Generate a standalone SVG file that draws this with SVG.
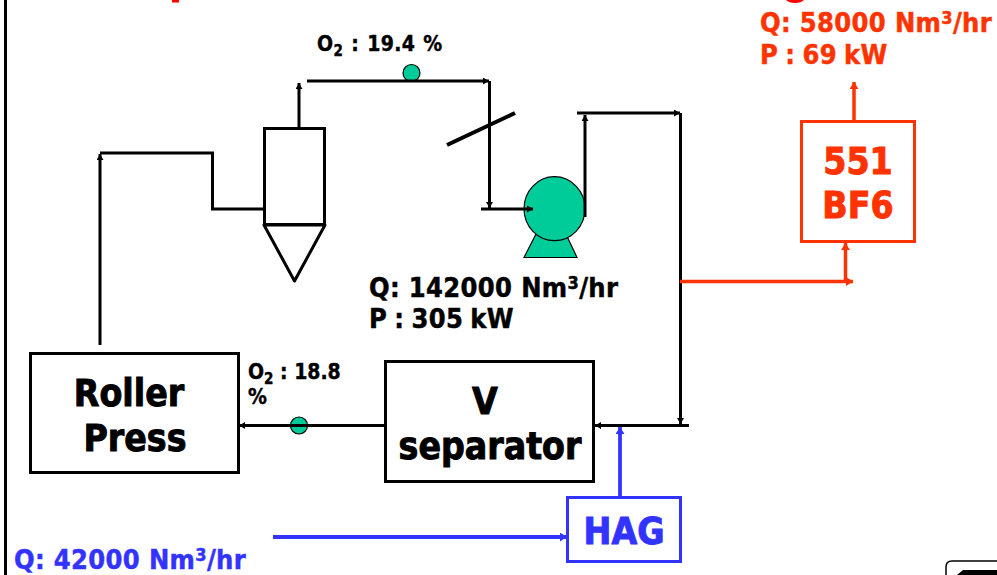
<svg xmlns="http://www.w3.org/2000/svg" width="997" height="575" viewBox="0 0 997 575">
<style>
text{font-family:"DejaVu Sans Condensed","DejaVu Sans",sans-serif;font-weight:700}
.k{fill:#000;stroke:#000}.r{fill:#ff3300;stroke:#ff3300}.b{fill:#3333ff;stroke:#3333ff}
.big{font-size:37px;stroke-width:.9;text-anchor:middle}
.mid{font-size:27px;stroke-width:.45;letter-spacing:.35px}
.sm{font-size:21px;stroke-width:.4}
.box{fill:#fff;stroke-width:3}
.ln{fill:none;stroke:#000;stroke-width:3}
.rl{fill:none;stroke:#ff3300;stroke-width:3.500}
.bl{fill:none;stroke:#3333ff;stroke-width:3.800}
.g{fill:#00cc99;stroke:#000;stroke-width:1.200}
</style>
<defs>
<marker id="ak" markerUnits="userSpaceOnUse" markerWidth="8" markerHeight="8" refX="6" refY="3.500" orient="auto"><path d="M0 0L6 3.500L0 7z" fill="#000"/></marker>
<marker id="ar" markerUnits="userSpaceOnUse" markerWidth="10" markerHeight="10" refX="7" refY="4.500" orient="auto"><path d="M0 0L7 4.500L0 9z" fill="#ff3300"/></marker>
<marker id="ab" markerUnits="userSpaceOnUse" markerWidth="10" markerHeight="10" refX="7" refY="4.500" orient="auto"><path d="M0 0L7 4.500L0 9z" fill="#3333ff"/></marker>
</defs>
<rect width="997" height="575" fill="#fff"/>
<path d="M5.500 0V575" stroke="#000" stroke-width="3"/>
<rect x="172" y="0" width="7" height="2.500" fill="#ff0000"/>
<path d="M786 0H804Q801 3 795 3Q789 3 786 0Z" fill="#ff0000"/>
<g id="cyclone">
<rect x="264.500" y="128.500" width="60" height="96" fill="none" stroke="#000" stroke-width="3"/>
<path d="M264 225H325L294.500 281Z" fill="#fff" stroke="#000" stroke-width="3" stroke-linejoin="round"/>
</g>
<g id="fan">
<path class="g" d="M524 257.500L537 232H565L577 257.500Z"/>
<ellipse class="g" cx="554.500" cy="208.700" rx="30.500" ry="32"/>
</g>
<g id="o2-top">
<circle class="g" cx="411.500" cy="73" r="8.500"/>
<text x="317" y="51" class="k sm" word-spacing="1" letter-spacing=".4">O<tspan font-size="15" dy="5">2</tspan><tspan dy="-5"> : 19.4 %</tspan></text>
</g>
<g id="o2-bottom">
<circle class="g" cx="299" cy="425.500" r="8.500"/>
<text x="248" y="379" class="k sm">O<tspan font-size="15" dy="5">2</tspan><tspan dy="-5"> : 18.8</tspan></text>
<text x="248" y="404" class="k sm">%</text>
</g>
<g id="roller-press">
<rect class="box" x="30.500" y="353.500" width="208" height="119" stroke="#000"/>
<text x="129" y="406" class="k big">Roller</text>
<text x="135" y="451" class="k big">Press</text>
</g>
<g id="v-separator">
<rect class="box" x="385.500" y="361.500" width="208" height="120" stroke="#000"/>
<text x="485" y="414" class="k big">V</text>
<text x="490" y="459" class="k big">separator</text>
</g>
<g id="hag">
<rect class="box" x="567.500" y="497.500" width="113" height="64" stroke="#3333ff"/>
<text x="624" y="544" class="b big">HAG</text>
</g>
<g id="bf6">
<rect class="box" x="801.500" y="121.500" width="113" height="120" stroke="#ff3300"/>
<text x="858" y="174" class="r big">551</text>
<text x="858" y="218" class="r big">BF6</text>
</g>
<g id="labels">
<text x="369" y="297" class="k mid">Q: 142000 Nm<tspan font-size="18" dy="-8">3</tspan><tspan dy="8">/hr</tspan></text>
<text x="369" y="328" class="k mid" word-spacing="-1.700">P : 305 kW</text>
<text x="760" y="32" class="r mid">Q: 58000 Nm<tspan font-size="18" dy="-8">3</tspan><tspan dy="8">/hr</tspan></text>
<text x="760" y="64" class="r mid" word-spacing="-1.700">P : 69 kW</text>
<text x="14" y="569" class="b mid">Q: 42000 Nm<tspan font-size="18" dy="-8">3</tspan><tspan dy="8">/hr</tspan></text>
</g>
<g id="connectors">
<path class="ln" d="M100 345V154" marker-end="url(#ak)"/>
<path class="ln" d="M100 153H212.500V209H264"/>
<path class="ln" d="M299 128V83" marker-end="url(#ak)"/>
<path class="ln" d="M307 81H489" marker-end="url(#ak)"/>
<path class="ln" d="M489.500 81V208" marker-end="url(#ak)"/>
<path d="M447 145L515 113" fill="none" stroke="#000" stroke-width="4"/>
<path class="ln" d="M481 209H533" marker-end="url(#ak)"/>
<path class="ln" d="M585 217V115" marker-end="url(#ak)"/>
<path class="ln" d="M577 113H680" marker-end="url(#ak)"/>
<path class="ln" d="M680.500 113V424" marker-end="url(#ak)"/>
<path class="ln" d="M689 425.500H595" marker-end="url(#ak)"/>
<path class="ln" d="M385 425.500H239" marker-end="url(#ak)"/>
<path class="rl" d="M680 281.500H853" marker-end="url(#ar)"/>
<path class="rl" d="M845.500 281V243" marker-end="url(#ar)"/>
<path class="rl" d="M854 121V82" marker-end="url(#ar)"/>
<path class="bl" d="M273 537H567" marker-end="url(#ab)"/>
<path class="bl" d="M620 497V427" marker-end="url(#ab)"/>
</g>
<path d="M946 575V567Q946 561 952 561H997" fill="none" stroke="#000" stroke-width="1.500"/>
<path d="M957 575L963 570H997V575Z" fill="#000"/>
</svg>
